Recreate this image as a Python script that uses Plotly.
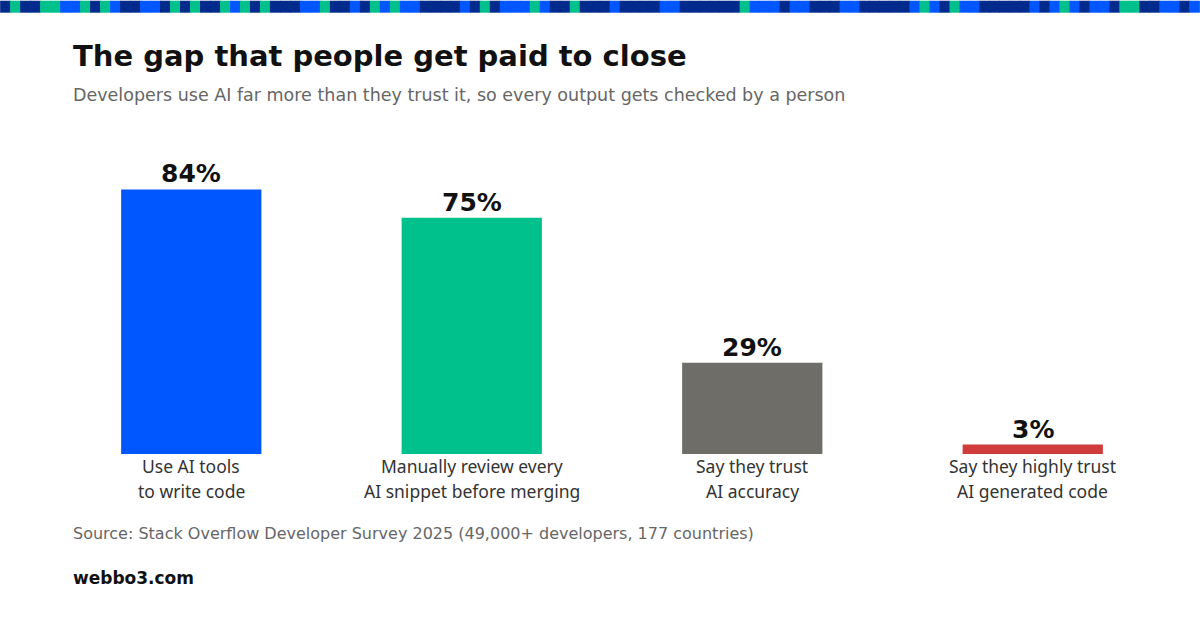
import plotly.graph_objects as go

categories = ["Use AI tools<br>to write code",
              "Manually review every<br>AI snippet before merging",
              "Say they trust<br>AI accuracy",
              "Say they highly trust<br>AI generated code"]
values = [84, 75, 29, 3]
value_labels = ["84%", "75%", "29%", "3%"]
bar_colors = ["#0057FF", "#00C08B", "#6E6D68", "#D03B3B"]

title = "The gap that people get paid to close"
subtitle = "Developers use AI far more than they trust it, so every output gets checked by a person"
source = "Source: Stack Overflow Developer Survey 2025 (49,000+ developers, 177 countries)"
brand = "webbo3.com"

# decorative top stripe: N=navy, B=blue, G=green (10px blocks)
stripe = ("NGNNGGBBGNGBNNBBNGNGNNGBGNGNNNBBGNNBNGBGBBNNNNBNGNBBBGBNNGNN"
          "NBNNNNBBNNNNNNGBBBNBBNNNBBNNNNNBGBNGBBNNNNNBNBGBNBBNGGNNBBNB")
stripe_colors = {"N": "#002B8C", "B": "#0057FF", "G": "#00C08B"}

W_FIG, H_FIG = 1200, 630
L, R, T, B = 50.6, 26.6, 138.5, 176
PW, PH = W_FIG - L - R, H_FIG - T - B

def px(x):
    return (x - L) / PW

def py(y):
    return (H_FIG - B - y) / PH

fig = go.Figure(go.Bar(
    x=categories, y=values, marker=dict(color=bar_colors, line=dict(width=0)),
    hoverinfo="skip",
))

shapes = []
for i, c in enumerate(stripe):
    shapes.append(dict(type="rect", xref="paper", yref="paper",
                       x0=px(i * 10 - 0.3), x1=px(i * 10 + 10.3), y0=py(12), y1=py(0),
                       fillcolor=stripe_colors[c], line=dict(width=0), layer="above"))

annotations = [
    dict(text="<b>" + title + "</b>", x=px(70.5), y=py(55), xanchor="left", yanchor="middle",
         font=dict(family="DejaVu Sans", size=29, color="#111111")),
    dict(text=subtitle, x=px(70.5), y=py(94), xanchor="left", yanchor="middle",
         font=dict(family="DejaVu Sans", size=17.5, color="#666666")),
    dict(text=source, x=px(70.5), y=py(534), xanchor="left", yanchor="middle",
         font=dict(family="DejaVu Sans", size=16, color="#666666")),
    dict(text="<b>" + brand + "</b>", x=px(70.5), y=py(578), xanchor="left", yanchor="middle",
         font=dict(family="DejaVu Sans", size=17, color="#111111")),
]
for a in annotations:
    a.update(xref="paper", yref="paper", showarrow=False)

# value labels above bars
for cat, v, lab in zip(categories, values, value_labels):
    annotations.append(dict(text="<b>" + lab + "</b>", x=cat, y=v, xref="x", yref="y",
                            xanchor="center", yanchor="bottom", yshift=-1, showarrow=False,
                            font=dict(family="DejaVu Sans", size=25, color="#111111")))

# category labels below bars (two lines each)
for cat in categories:
    for j, line in enumerate(cat.split("<br>")):
        annotations.append(dict(text=line, x=cat, y=0, xref="x", yref="y",
                                xanchor="center", yanchor="middle", yshift=-12 - 25 * j,
                                showarrow=False,
                                font=dict(family="Noto Sans", size=17.5, color="#333333")))

fig.update_layout(
    width=W_FIG, height=H_FIG,
    margin=dict(l=L, r=R, t=T, b=B, pad=0),
    paper_bgcolor="white", plot_bgcolor="white",
    bargap=0.5, showlegend=False,
    shapes=shapes, annotations=annotations,
    xaxis=dict(showgrid=False, showline=False, zeroline=False, ticks="",
               showticklabels=False),
    yaxis=dict(range=[0, 100], visible=False, showgrid=False, zeroline=False),
)

fig.write_html("out.html", config={"displayModeBar": False},
               post_script="document.body.style.margin='0';")
